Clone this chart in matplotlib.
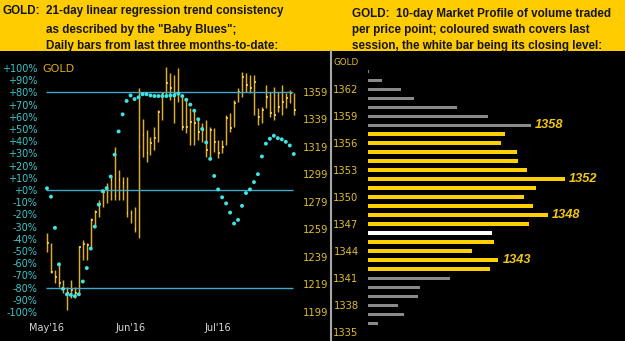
import matplotlib
matplotlib.use("Agg")
import matplotlib.pyplot as plt
from matplotlib.patches import Rectangle
from matplotlib.lines import Line2D

# ---------------- data ----------------
bar_high = [1256.7, 1249.4, 1229.5, 1235.6, 1222.3, 1217.4, 1222.3, 1217.4, 1247.0, 1251.4,
            1249.2, 1267.4, 1273.2, 1280.5, 1287.7, 1292.8, 1298.6, 1319.0, 1302.3, 1297.4,
            1297.4, 1273.2, 1275.6, 1361.9, 1339.4, 1331.4, 1326.5, 1333.8, 1345.9, 1359.2,
            1377.4, 1372.6, 1371.4, 1376.5, 1356.1, 1353.2, 1347.4, 1345.9, 1338.6, 1336.5,
            1338.6, 1333.8, 1332.8, 1324.1, 1324.1, 1342.3, 1343.7, 1353.2, 1361.7, 1373.8,
            1372.6, 1371.4, 1371.4, 1347.2, 1348.3, 1364.1, 1359.2, 1362.9, 1359.2, 1364.1,
            1358.1, 1360.5, 1358.1]
bar_low = [1242.9, 1227.1, 1220.1, 1217.4, 1212.8, 1200.5, 1209.2, 1209.2, 1211.4, 1236.8,
           1236.8, 1245.5, 1260.8, 1268.1, 1275.4, 1278.3, 1280.5, 1280.5, 1280.5, 1280.5,
           1268.3, 1263.7, 1257.4, 1252.8, 1311.7, 1308.3, 1313.2, 1316.8, 1322.9, 1338.6,
           1355.6, 1353.2, 1336.5, 1352.0, 1331.4, 1329.2, 1320.5, 1320.5, 1324.1, 1322.9,
           1312.0, 1312.0, 1315.6, 1311.0, 1314.6, 1320.5, 1330.1, 1333.8, 1351.9, 1355.6,
           1359.2, 1358.1, 1342.3, 1335.0, 1336.2, 1347.2, 1341.0, 1338.6, 1344.7, 1342.3,
           1347.2, 1350.8, 1342.3]
bar_close = [1249.4, 1228.1, 1224.7, 1220.3, 1215.7, 1212.6, 1215.0, 1212.6, 1246.5, 1248.2,
             1247.7, 1265.9, 1271.9, 1277.5, 1286.5, 1287.7, 1295.0, 1283.4, 1295.0, 1292.6,
             1270.8, 1271.0, 1259.1, 1318.8, 1327.7, 1314.4, 1321.7, 1325.3, 1344.7, 1358.1,
             1365.3, 1361.7, 1358.1, 1358.1, 1333.8, 1333.8, 1337.4, 1336.2, 1330.1, 1331.4,
             1316.8, 1331.4, 1322.9, 1314.4, 1319.2, 1339.9, 1332.6, 1350.8, 1359.2, 1370.1,
             1364.1, 1361.7, 1366.5, 1341.0, 1345.9, 1355.6, 1343.5, 1342.3, 1348.3, 1351.9,
             1354.4, 1358.1, 1345.9]
trend_pct = [1.4, -5.5, -31, -61, -81, -85.5, -86, -87, -85.5, -75, -64, -48, -30, -12, -1,
             1.5, 11, 29, 48, 62, 73, 77.5, 74.5, 76, 78.5, 78.5, 77.5, 77, 77, 77, 77, 77.5,
             77.5, 79, 77, 74, 70, 65, 58, 50, 39, 25.5, 11.5, 0.5, -6, -11, -18.5, -27.5,
             -24.5, -13, -2.5, 0.5, 6.5, 13, 27.5, 38, 42, 44.5, 42.5, 41.5, 39.5, 36.5, 29.5]
month_tick_index = [0, 21, 43]
month_labels = ["May'16", "Jun'16", "Jul'16"]
pct_ticks = list(range(-100, 101, 10))
price_ticks = [1199, 1219, 1239, 1259, 1279, 1299, 1319, 1339, 1359]
ref_levels_pct = [80, 0, -80]

profile_prices = [1364, 1363, 1362, 1361, 1360, 1359, 1358, 1357, 1356, 1355, 1354, 1353,
                  1352, 1351, 1350, 1349, 1348, 1347, 1346, 1345, 1344, 1343, 1342, 1341,
                  1340, 1339, 1338, 1337, 1336]
profile_volume = [1, 14, 32.7, 46, 89, 119.4, 162.7, 136.4, 133, 148.4, 149.4, 159,
                  196.7, 168, 156, 165, 179.4, 160.7, 123.4, 126, 103.4, 130, 121.7, 81.7,
                  51.7, 50, 29.4, 36, 9.4]
session_high, session_low, session_close = 1357, 1342, 1346
profile_labelled = [1358, 1352, 1348, 1343]
profile_ticks = [1335, 1338, 1341, 1344, 1347, 1350, 1353, 1356, 1359, 1362]

left_title = ["21-day linear regression trend consistency",
              "as described by the \"Baby Blues\";",
              "Daily bars from last three months-to-date:"]
right_title = ["GOLD:  10-day Market Profile of volume traded",
               "per price point; coloured swath covers last",
               "session, the white bar being its closing level:"]

# ---------------- figure ----------------
W, H = 625, 341
fig = plt.figure(figsize=(W / 100, H / 100), dpi=100, facecolor="black")


def fx(px):
    return px / W


def fy(py):
    return 1 - py / H


HEADER_Y = 51
fig.patches.append(Rectangle((0, fy(HEADER_Y)), 1, HEADER_Y / H, transform=fig.transFigure,
                             facecolor="#FFCC00", edgecolor="none", zorder=0))

head_font = dict(family="Liberation Sans", fontweight="bold", fontsize=8.4,
                 color="#151515", va="baseline")
fig.text(fx(3), fy(14), "GOLD:", ha="left", **head_font)
for ypx, line in zip([14, 33, 48.8], left_title):
    fig.text(fx(46.5), fy(ypx), line, ha="left", **head_font)
for ypx, line in zip([16.5, 33, 48.8], right_title):
    fig.text(fx(351.5), fy(ypx), line, ha="left", **head_font)

# separator
fig.add_artist(Line2D([fx(331), fx(331)], [fy(HEADER_Y), 0], transform=fig.transFigure,
                      color="#A8A8A8", lw=1.5))

# ---------------- left panel ----------------
AX_L, AX_R, AX_T, AX_B = 44, 299, HEADER_Y, 316
X0, DX = 47, 3.98
axL = fig.add_axes([fx(AX_L), fy(AX_B), fx(AX_R) - fx(AX_L), fy(AX_T) - fy(AX_B)])
axL.set_facecolor("none")
axL.set_xlim((AX_L - X0) / DX, (AX_R - X0) / DX)
# pct: +100 at y=68, -100 at y=312
axL.set_ylim((190 - AX_B) / 1.22, (190 - AX_T) / 1.22)
axP = axL.twinx()
# price: 1359 at y=92, 1199 at y=312
axP.set_ylim(1199 + (312 - AX_B) / 1.375, 1199 + (312 - AX_T) / 1.375)
for a in (axL, axP):
    for s in a.spines.values():
        s.set_visible(False)

n = len(bar_close)
idx = list(range(n))
axL.hlines(ref_levels_pct, -0.25, n - 1.1, color="#3DAACC", lw=1.0, zorder=1)
axP.vlines(idx, bar_low, bar_high, color="#E0AE24", lw=1.05, zorder=2)
axP.hlines(bar_close, [i for i in idx], [i + 0.45 for i in idx], color="#F7D64E", lw=1.2, zorder=3)
axL.set_zorder(axP.get_zorder() + 1)
axL.scatter(idx, trend_pct, s=8, color="#40E2E2", edgecolors="none", zorder=4)

axL.set_yticks(pct_ticks)
axL.set_yticklabels([f"{v:+d}%" for v in pct_ticks])
axL.tick_params(axis="y", length=0, pad=5, labelsize=7.0, labelcolor="#3CC8CC")
axL.set_xticks(month_tick_index)
axL.set_xticklabels(month_labels)
axL.tick_params(axis="x", length=0, pad=5, labelsize=7.0, labelcolor="#D8D8D8")
axP.set_yticks(price_ticks)
axP.tick_params(axis="y", length=0, pad=3, labelsize=7.2, labelcolor="#E0BE2A")
fig.text(fx(42), fy(68.5), "GOLD", ha="left", va="center", fontsize=8, color="#D9A820",
         family="DejaVu Sans")

# ---------------- right panel ----------------
R_L = 368.3
axR = fig.add_axes([fx(R_L), 0, 1 - fx(R_L), fy(HEADER_Y)])
axR.set_facecolor("none")
axR.set_xlim(0, W - R_L)
axR.set_ylim(1362 - (H - 89.3) / 9, 1362 + (89.3 - HEADER_Y) / 9)
for s in axR.spines.values():
    s.set_visible(False)
colors, heights = [], []
for p in profile_prices:
    if p == session_close:
        colors.append("#FFFFFF"); heights.append(0.40)
    elif session_low <= p <= session_high:
        colors.append("#FFD000"); heights.append(0.46)
    else:
        colors.append("#8A8A8A"); heights.append(0.37)
axR.barh(profile_prices, profile_volume, height=heights, color=colors, edgecolor="none")
for p in profile_labelled:
    v = profile_volume[profile_prices.index(p)]
    axR.text(v + 4, p, str(p), ha="left", va="center", fontsize=9.2, fontweight="bold",
             fontstyle="italic", color="#F2C814", family="Liberation Sans")
axR.set_yticks(profile_ticks)
axR.tick_params(axis="y", length=0, pad=7, labelsize=7.2, labelcolor="#E0BE2A")
axR.set_xticks([])
fig.text(fx(333), fy(62.5), "GOLD", ha="left", va="center", fontsize=6.3, color="#E0BE2A")

fig.savefig("out.png", dpi=100, facecolor="black")
